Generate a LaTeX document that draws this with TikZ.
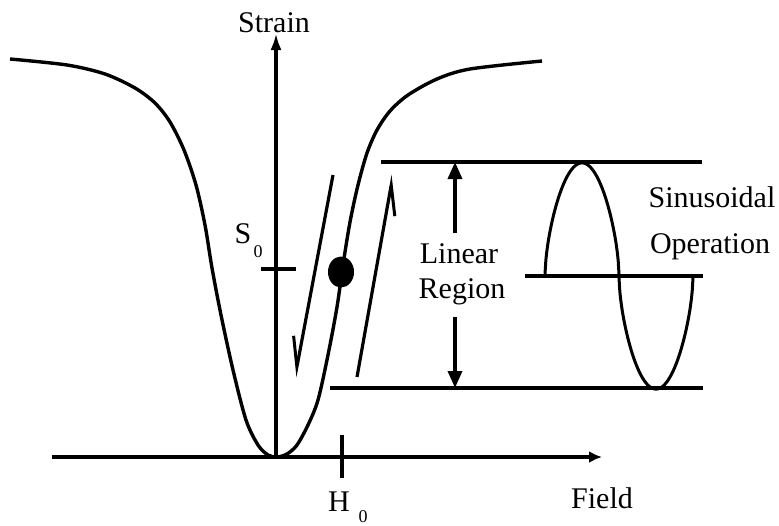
\documentclass[tikz,border=0pt]{standalone}
\usepackage{fontspec}
\setmainfont{Liberation Serif}
\usetikzlibrary{arrows.meta,shapes.geometric}
\begin{document}
\begin{tikzpicture}[x=1pt,y=-1pt,line join=round,
  axis/.style={line width=3.4pt},
  curve/.style={line width=3.4pt},
  hline/.style={line width=3.4pt},
  sine/.style={line width=3pt},
  lbl/.style={font=\fontsize{30}{34}\selectfont,inner sep=0pt,anchor=base},
  sub/.style={font=\fontsize{18}{20}\selectfont,inner sep=0pt,anchor=base},
  harp/.style={line width=3.2pt,-{Straight Barb[right,length=30pt,width=18pt,line width=3pt]}},
  dim/.style={line width=3.4pt,-{Triangle[length=17pt,width=14pt]}}]
\useasboundingbox (0,0) rectangle (779,525);
% axes
\coordinate (O) at (276,457);
\coordinate (ytip) at (276,33);
\coordinate (xL) at (52,457);
\coordinate (xtip) at (602,457);
\draw[axis,-{Latex[length=17pt,width=11pt]}] (O) -- (ytip);
\draw[axis,-{Latex[length=13pt,width=12pt]}] (xL) -- (xtip);
% ticks
\coordinate (s0a) at (261,269); \coordinate (s0b) at (296,269);
\coordinate (h0a) at (342,435); \coordinate (h0b) at (342,478);
\draw[axis] (s0a) -- (s0b);
\draw[axis] (h0a) -- (h0b);
% labels
\node[lbl] (strain) at (274,32) {Strain};
\node[lbl] (field) at (602,508) {Field};
\node[lbl] (Hlab) at (339,511) {H};
\node[sub] (Hsub) at (363,522) {0};
\node[lbl] (Slab) at (243,243) {S};
\node[sub] (Ssub) at (258,257) {0};
\node[lbl] (lin) at (459,263) {Linear};
\node[lbl] (reg) at (462,298) {Region};
\node[lbl] (sinl) at (712,207) {Sinusoidal};
\node[lbl] (opl) at (710,253) {Operation};
% strain curve
\draw[curve] plot[smooth,tension=0.5] coordinates {
 (10,59) (67,65) (105,74) (135,88) (155,103) (170,122) (184,150) (196,185)
 (205,225) (212,268) (221,315) (233,370) (246,420) (258,445) (268,455) (277,457)
 (287,454) (297,445) (308,425) (318,400) (328,355) (337,307) (343,265)
 (350,222) (358,185) (367,153) (377,130) (390,111) (408,95) (437,79)
 (470,69) (542,61)};
% operating point
\node[ellipse,fill=black,inner sep=0pt,minimum width=26pt,minimum height=31pt] (dot) at (341,272) {};
% small arrows
\coordinate (a1s) at (333,175); \coordinate (a1e) at (295,377);
\coordinate (a2s) at (357,377); \coordinate (a2e) at (393,175);
\draw[harp] (a1s) -- (a1e);
\draw[harp] (a2s) -- (a2e);
% horizontal lines
\coordinate (tl) at (381,162); \coordinate (tr) at (702,162);
\coordinate (ml) at (525,276); \coordinate (mr) at (703,276);
\coordinate (bl) at (330,388); \coordinate (br) at (703,388);
\draw[hline] (tl) -- (tr);
\draw[hline] (ml) -- (mr);
\draw[hline] (bl) -- (br);
% linear region double arrow
\coordinate (dtop) at (455,162); \coordinate (dmu) at (455,233);
\coordinate (dbot) at (455,388); \coordinate (dml) at (455,317);
\draw[dim] (dmu) -- (dtop);
\draw[dim] (dml) -- (dbot);
% sine
\draw[sine] plot[domain=0:180,samples=91] ({545+0.41111*\x},{276-113*exp(0.6*ln(abs(sin(\x))+0.001))})
  -- plot[domain=180:360,samples=91] ({545+0.41111*\x},{276+113*exp(0.6*ln(abs(sin(\x))+0.001))});
\end{tikzpicture}
\end{document}
